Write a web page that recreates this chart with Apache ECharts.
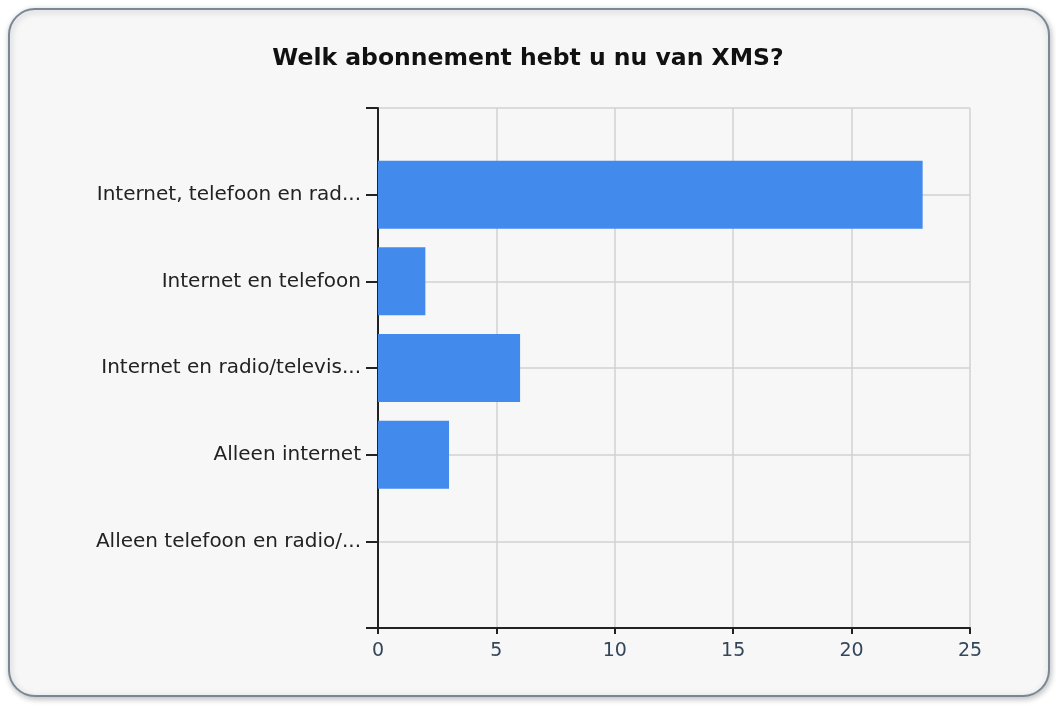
<!DOCTYPE html>
<html>
<head>
<meta charset="utf-8">
<script src="https://cdn.jsdelivr.net/npm/echarts@6/dist/echarts.min.js"></script>
<style>
html,body{margin:0;padding:0;background:#ffffff;}
#chart{width:1056px;height:705px;}
</style>
</head>
<body>
<div id="chart"></div>
<script>
const title = 'Welk abonnement hebt u nu van XMS?';
const categories = [
  'Internet, telefoon en rad...',
  'Internet en telefoon',
  'Internet en radio/televis...',
  'Alleen internet',
  'Alleen telefoon en radio/...'
];
const values = [23, 2, 6, 3, 0];
const xTicks = [0, 5, 10, 15, 20, 25];

// pad with an empty slot above and below so categories sit on ticks
const yData = [''].concat(categories, ['']);
const barData = [null].concat(values, [null]);

const chart = echarts.init(document.getElementById('chart'));
const font = 'DejaVu Sans';
chart.setOption({
  animation: false,
  graphic: [{
    type: 'rect', z: -10,
    shape: {x: 9, y: 9, width: 1040, height: 687, r: 26},
    style: {fill: '#f7f7f7', stroke: '#7a8896', lineWidth: 2,
            shadowBlur: 6, shadowColor: 'rgba(0,0,0,0.25)', shadowOffsetX: 1, shadowOffsetY: 2}
  }],
  title: {
    text: title, left: 'center', top: 42,
    textStyle: {fontFamily: font, fontSize: 23.5, fontWeight: 'bold', color: '#111'}
  },
  grid: {left: 378, right: 86, top: 108, bottom: 77, containLabel: false},
  xAxis: {
    type: 'value', min: xTicks[0], max: xTicks[xTicks.length - 1], interval: 5,
    axisLine: {show: true, lineStyle: {color: '#222', width: 2}},
    axisTick: {show: true, length: 6, lineStyle: {color: '#222', width: 2}},
    axisLabel: {fontFamily: font, fontSize: 19, color: '#34465a', margin: 14},
    splitLine: {show: true, lineStyle: {color: '#d2d2d2', width: 1.5}}
  },
  yAxis: {
    type: 'category', data: yData, inverse: true, boundaryGap: false,
    axisLine: {show: true, lineStyle: {color: '#222', width: 2}},
    axisTick: {show: true, length: 12, interval: 0, lineStyle: {color: '#222', width: 2}},
    axisLabel: {interval: 0, fontFamily: font, fontSize: 20, color: '#222', margin: 17},
    splitLine: {show: true, interval: 0, lineStyle: {color: '#d2d2d2', width: 1.5}}
  },
  series: [{
    type: 'bar', data: barData, barWidth: 68,
    itemStyle: {color: '#428bed'}
  }]
});
</script>
</body>
</html>
